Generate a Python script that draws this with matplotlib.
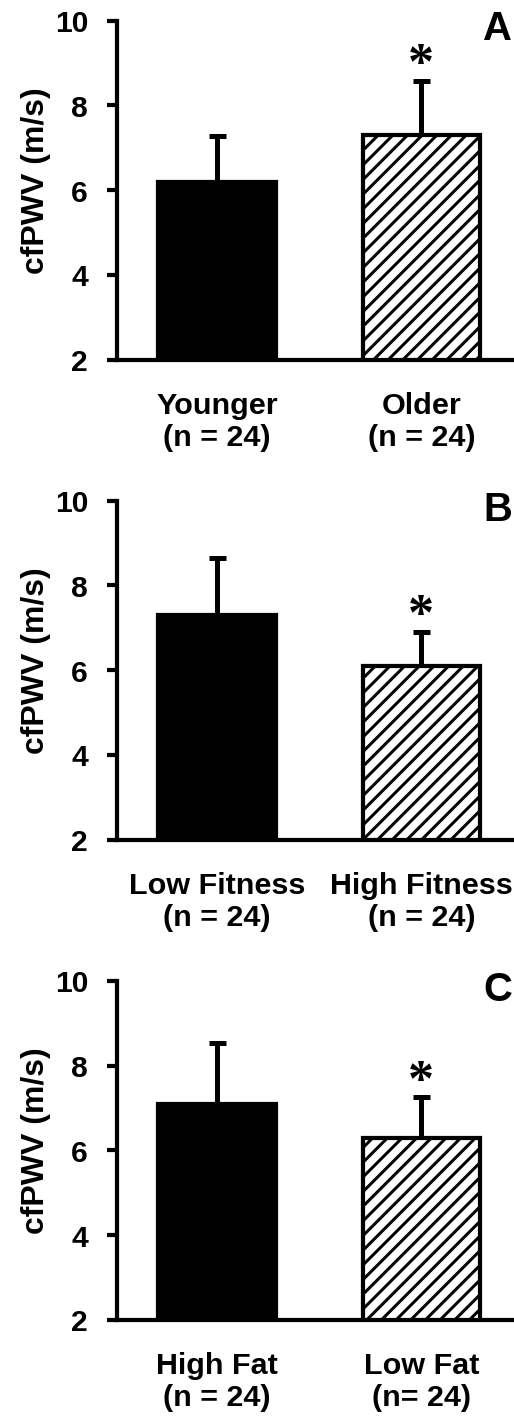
import matplotlib
matplotlib.use("Agg")
import matplotlib.pyplot as plt

OUT = "out.png"
DPI = 132  # picked so the hatch spacing matches the original

# panel data (cfPWV, m/s): mean and upper SD
LABELS_A = ["Younger\n(n = 24)", "Older\n(n = 24)"]
MEANS_A = [6.2, 7.3]
SD_A = [1.08, 1.28]

LABELS_B = ["Low Fitness\n(n = 24)", "High Fitness\n(n = 24)"]
MEANS_B = [7.3, 6.1]
SD_B = [1.36, 0.81]

LABELS_C = ["High Fat\n(n = 24)", "Low Fat\n(n= 24)"]
MEANS_C = [7.1, 6.3]
SD_C = [1.44, 0.95]

LETTERS = ["A", "B", "C"]
YTICKS = [2, 4, 6, 8, 10]


def pt(px):
    # pixel size -> points at the figure dpi
    return px * 72.0 / DPI


plt.rcParams["font.family"] = ["Liberation Sans", "DejaVu Sans"]
plt.rcParams["font.weight"] = "bold"
plt.rcParams["hatch.color"] = "black"
plt.rcParams["hatch.linewidth"] = pt(3)


def draw_panel(ax, labels, means, sds, letter):
    x = [0, 1]
    ax.bar(x, means, width=0.575, bottom=0, color=["black", "white"],
           edgecolor="black", linewidth=pt(4.2), hatch=["", "///"], zorder=2)
    ax.errorbar(x, means, yerr=[[0, 0], sds], fmt="none", ecolor="black",
                elinewidth=pt(5), capsize=pt(8.5), capthick=pt(5), zorder=1)
    # significance marker above the hatched bar
    ax.annotate("*", xy=(1, means[1] + sds[1]), xytext=(0, pt(2)),
                textcoords="offset points", ha="center", va="baseline",
                fontsize=pt(52), fontweight="bold",
                family="Liberation Serif")

    ax.set_ylim(2, 10)
    ax.set_xlim(-0.49, 1.456)
    ax.set_yticks(YTICKS)
    ax.set_xticks(x)
    ax.set_xticklabels(labels, fontsize=pt(30.5), fontweight="bold",
                       linespacing=1.17)
    ax.tick_params(axis="y", labelsize=pt(30), length=pt(10),
                   width=pt(4.2), pad=pt(19))
    ax.tick_params(axis="x", length=0, pad=pt(32))
    for s in ["top", "right"]:
        ax.spines[s].set_visible(False)
    for s in ["left", "bottom"]:
        ax.spines[s].set_linewidth(pt(4.2))
    ax.set_ylabel("cfPWV (m/s)", fontsize=pt(32), fontweight="bold")
    ax.yaxis.set_label_coords(-0.167, 0.53)
    ax.text(0.957, 0.975, letter, transform=ax.transAxes, ha="center",
            va="center", fontsize=pt(40), fontweight="bold")


def main():
    fig = plt.figure(figsize=(514.4 / DPI, 1416.4 / DPI), dpi=DPI)
    bottoms = [0.7458, 0.4068, 0.0678]
    panels = [(LABELS_A, MEANS_A, SD_A), (LABELS_B, MEANS_B, SD_B),
              (LABELS_C, MEANS_C, SD_C)]
    for b, (labels, means, sds), letter in zip(bottoms, panels, LETTERS):
        ax = fig.add_axes([0.2276, b, 0.7724, 0.2394])
        draw_panel(ax, labels, means, sds, letter)

    fig.savefig(OUT, dpi=DPI)
    plt.close(fig)


if __name__ == "__main__":
    main()
